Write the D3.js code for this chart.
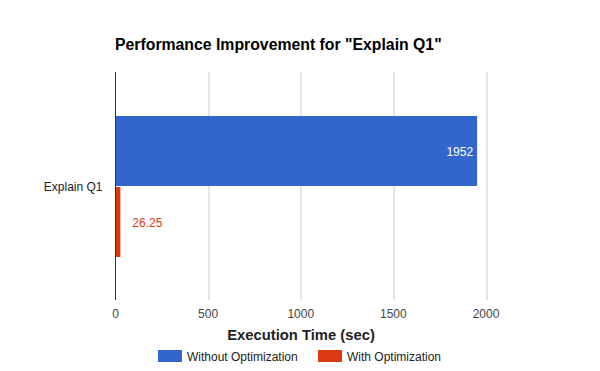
<!DOCTYPE html>
<html>
<head>
<meta charset="utf-8">
<script src="https://cdn.jsdelivr.net/npm/d3@7"></script>
<style>
	body { margin: 0; background: #fff; }
	text { font-family: "Liberation Sans", Arial, sans-serif; }
</style>
</head>
<body>
<div id="chart"></div>
<script>

var categories = ["Explain Q1"]
var seriesNames = ["Without Optimization", "With Optimization"]
var seriesColors = ["#3366cc", "#dc3912"]
var withoutOpt = [1952]
var withOpt = [26.25]
var xTicks = [0, 500, 1000, 1500, 2000]

var width = 600, height = 371
var margin = {top: 72, right: 68, bottom: 71, left: 115.5}
var innerW = width - margin.left - margin.right
var innerH = height - margin.top - margin.bottom

var svg = d3.select("#chart").append("svg")
	.attr("width", width)
	.attr("height", height)

svg.append("text")
	.attr("x", 115)
	.attr("y", 50)
	.attr("font-size", 15.8)
	.attr("font-weight", "bold")
	.attr("fill", "#000")
	.text('Performance Improvement for "Explain Q1"')

var g = svg.append("g").attr("transform", "translate(" + margin.left + "," + margin.top + ")")

var x = d3.scaleLinear().domain([0, 2000]).range([0, 370.5])

var y = d3.scaleBand().domain(categories).range([0, innerH]).paddingInner(0).paddingOuter(0.0)

// gridlines
g.selectAll(".grid")
	.data(xTicks.slice(1))
	.enter().append("line")
	.attr("class", "grid")
	.attr("x1", function(d) { return Math.round(x(d)) + 0.5 })
	.attr("x2", function(d) { return Math.round(x(d)) + 0.5 })
	.attr("y1", 0)
	.attr("y2", innerH)
	.attr("stroke", "#cccccc")

// tick labels
g.selectAll(".tick-label")
	.data(xTicks)
	.enter().append("text")
	.attr("x", function(d) { return x(d) })
	.attr("y", innerH + 18)
	.attr("text-anchor", "middle")
	.attr("font-size", 12)
	.attr("fill", "#444")
	.text(function(d) { return d })

var groupPad = 44
var barH = (y.bandwidth() - groupPad * 2) / 2

var series = [withoutOpt, withOpt]

series.forEach(function(vals, s) {
	g.selectAll(".bar" + s)
		.data(vals)
		.enter().append("rect")
		.attr("x", x(0))
		.attr("y", function(d, i) { return y(categories[i]) + groupPad + s * (barH + 1) })
		.attr("width", function(d) { return x(d) - x(0) })
		.attr("height", barH)
		.attr("fill", seriesColors[s])
})

// value labels
g.selectAll(".lab0")
	.data(withoutOpt)
	.enter().append("text")
	.attr("x", function(d) { return x(d) - 4 })
	.attr("y", function(d, i) { return y(categories[i]) + groupPad + barH / 2 + 4.5 })
	.attr("text-anchor", "end")
	.attr("font-size", 12)
	.attr("fill", "#fff")
	.text(function(d) { return d })

g.selectAll(".lab1")
	.data(withOpt)
	.enter().append("text")
	.attr("x", function(d) { return x(d) + 12 })
	.attr("y", function(d, i) { return y(categories[i]) + groupPad + barH + 1 + barH / 2 + 4.5 })
	.attr("text-anchor", "start")
	.attr("font-size", 12)
	.attr("fill", seriesColors[1])
	.text(function(d) { return d })

// zero line
g.append("line")
	.attr("x1", 0).attr("x2", 0)
	.attr("y1", 0).attr("y2", innerH)
	.attr("stroke", "#333")

// category labels
g.selectAll(".cat")
	.data(categories)
	.enter().append("text")
	.attr("x", -13)
	.attr("y", function(d) { return y(d) + y.bandwidth() / 2 + 4.5 })
	.attr("text-anchor", "end")
	.attr("font-size", 12)
	.attr("fill", "#222")
	.text(function(d) { return d })

// axis title
svg.append("text")
	.attr("x", 301)
	.attr("y", 340)
	.attr("text-anchor", "middle")
	.attr("font-size", 14.8)
	.attr("font-weight", "bold")
	.attr("fill", "#222")
	.text("Execution Time (sec)")

// legend
var legendX = [158, 318]
var legend = svg.selectAll(".legend")
	.data(seriesNames)
	.enter().append("g")
	.attr("transform", function(d, i) { return "translate(" + legendX[i] + ",350)" })

legend.append("rect")
	.attr("width", 24)
	.attr("height", 12)
	.attr("fill", function(d, i) { return seriesColors[i] })

legend.append("text")
	.attr("x", 29)
	.attr("y", 10.5)
	.attr("font-size", 12)
	.attr("fill", "#222")
	.text(function(d) { return d })

</script>
</body>
</html>
